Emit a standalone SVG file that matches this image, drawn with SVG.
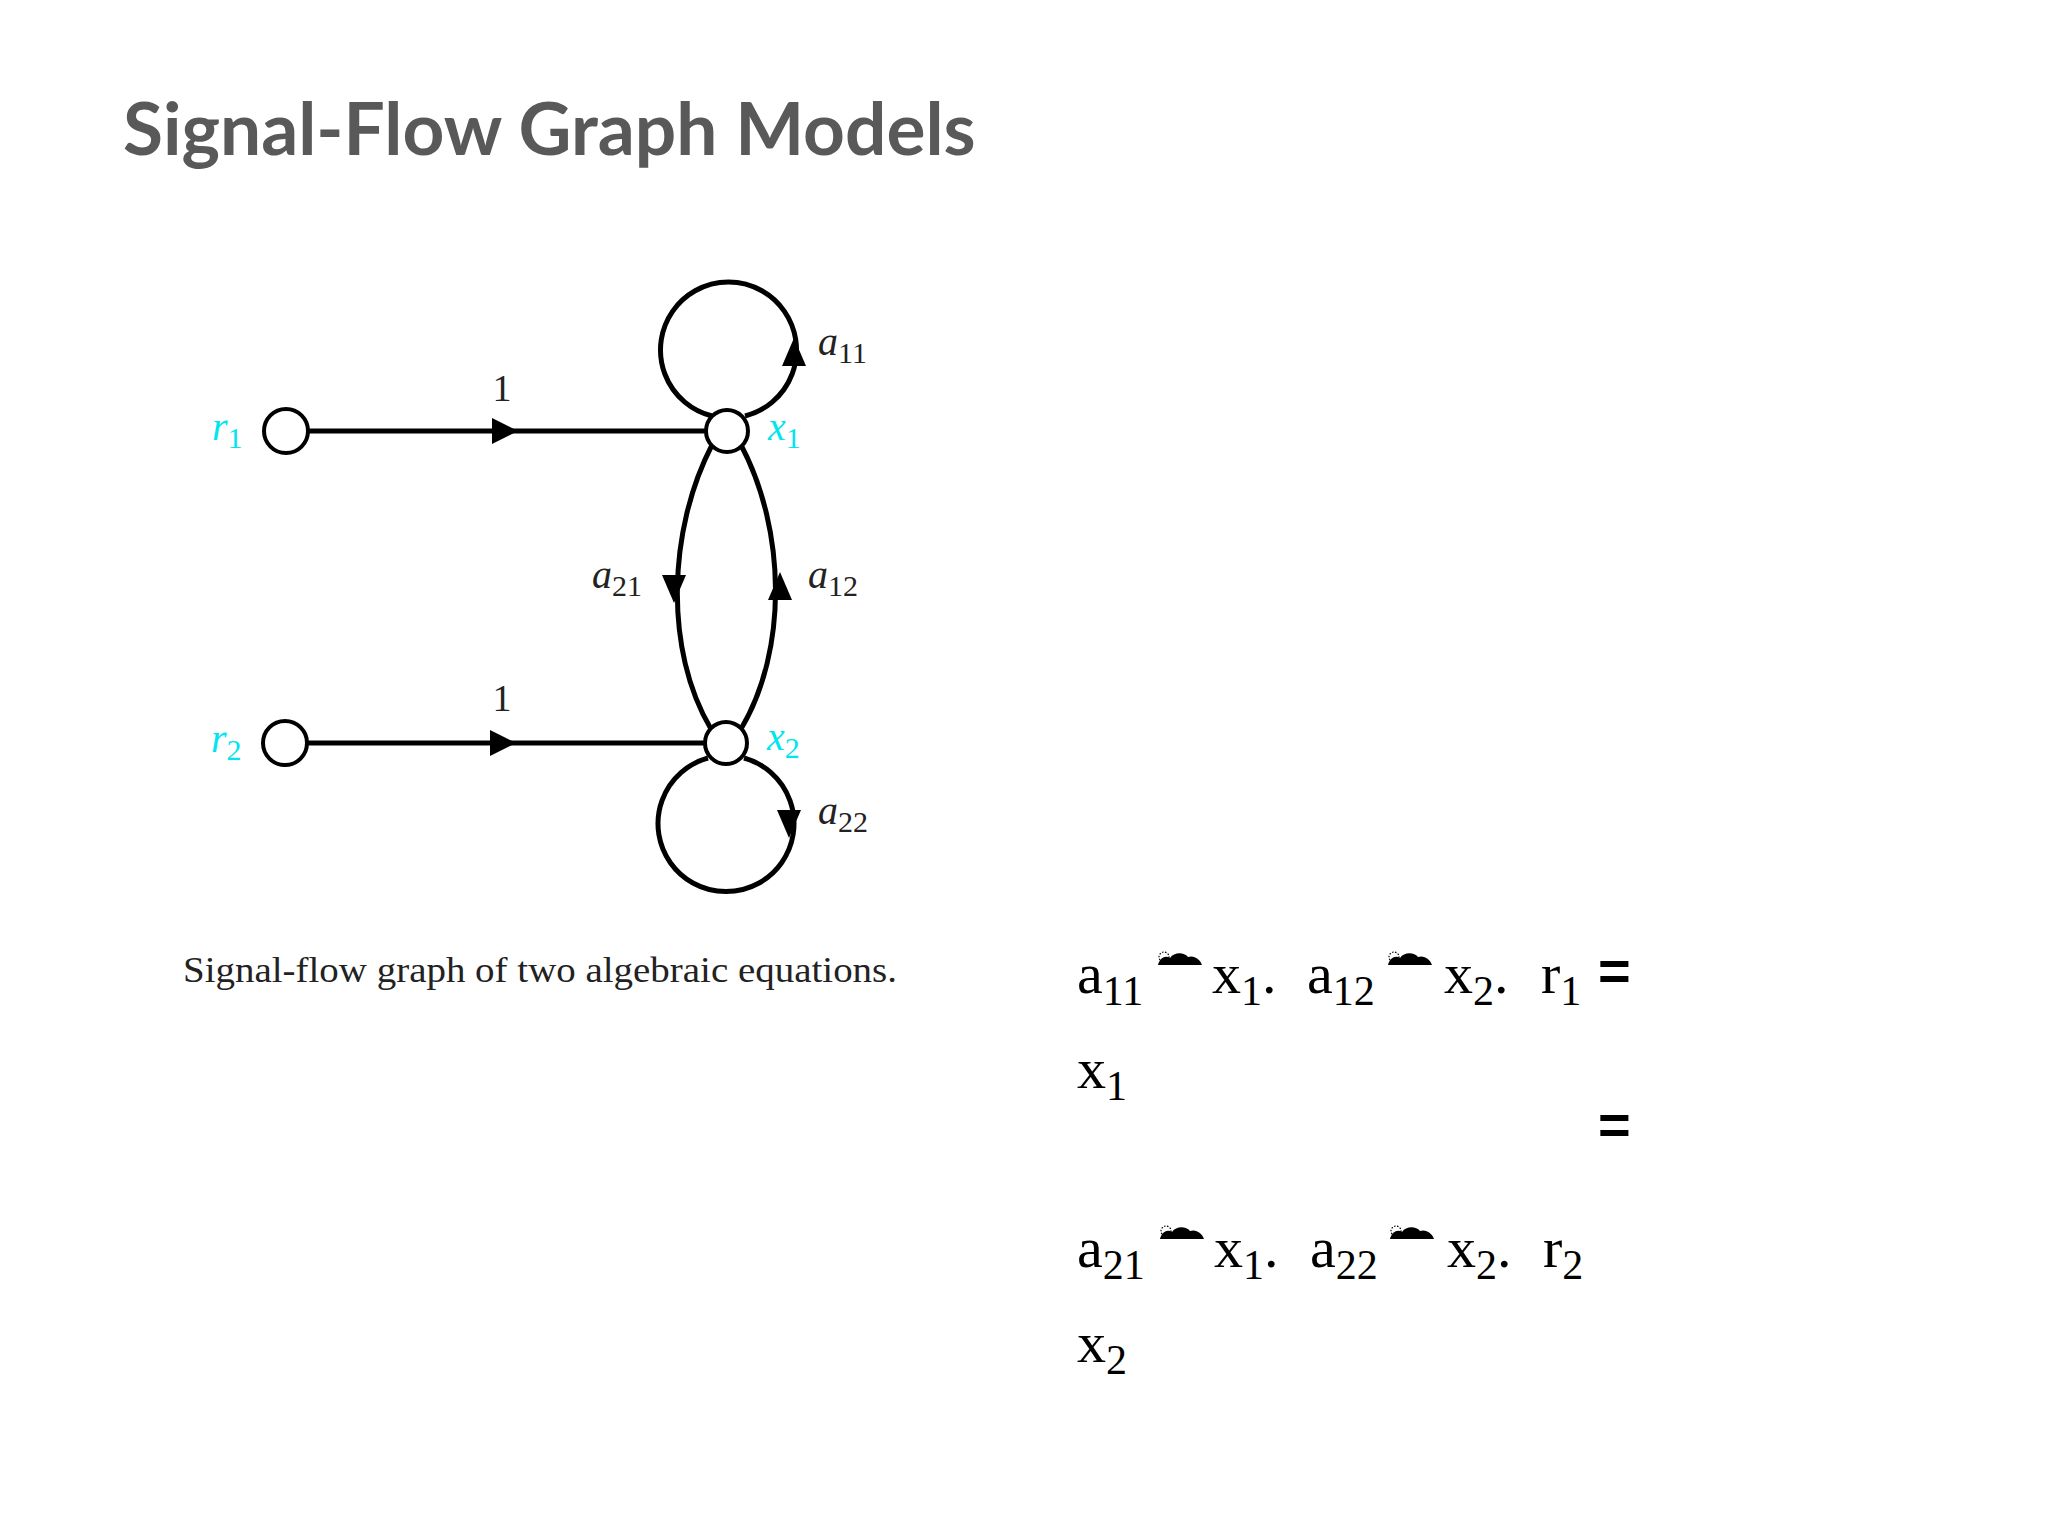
<svg xmlns="http://www.w3.org/2000/svg" width="2048" height="1536" viewBox="0 0 2048 1536">
<defs>
<g id="cloud"><path d="M0,12 C2,4 8,2 12,5 C16,-1 26,-1 30,4 C36,2 42,6 44,12 z" fill="#000"/><circle cx="6" cy="4" r="5" fill="none" stroke="#000" stroke-width="1.2" stroke-dasharray="1.5 1.5"/></g>
</defs>
<style>
.e{stroke:#000;stroke-width:5;fill:none}
.n{stroke:#000;stroke-width:4;fill:#fff}
.lb{font-family:"Liberation Serif",serif;font-style:italic;font-size:40px;fill:#222}
.cy{font-family:"Liberation Serif",serif;font-style:italic;font-size:40px;fill:#00e5ee}
.sb{font-size:30px;font-style:normal}
.eq{font-family:"Liberation Serif",serif;font-size:58px;fill:#000}
.es{font-size:42px}
.eqs{font-family:"Liberation Sans",sans-serif;font-weight:bold;font-size:56px;fill:#000}
</style>
<rect width="2048" height="1536" fill="#fff"/>
<text x="123" y="155" font-family="Lato, sans-serif" font-weight="bold" font-size="73" fill="#595959">Signal-Flow Graph Models</text>
<g id="connectors">
<line class="e" x1="308" y1="431" x2="706" y2="431"/>
<path d="M492,418 L518,431 L492,444 z"/>
<line class="e" x1="307" y1="743" x2="705" y2="743"/>
<path d="M490,730 L516,743 L490,756 z"/>
<path class="e" d="M712,445 C668,530 664,650 711,729"/>
<path d="M662,575 L686,575 L674,603 z"/>
<path class="e" d="M741,445 C786,530 788,650 741,729"/>
<path d="M768,600 L792,600 L780,572 z"/>
<path class="e" d="M712,416 A68,68 0 1 1 745,416"/>
<path d="M782,366 L806,366 L794,338 z"/>
<path class="e" d="M744,758 A68,68 0 1 1 708,758"/>
<path d="M777,810 L801,810 L789,838 z"/>
</g>
<g id="r1"><circle class="n" cx="286" cy="431" r="22"/><text class="cy" x="212" y="440">r<tspan class="sb" dy="8">1</tspan></text></g>
<g id="x1"><circle class="n" cx="727" cy="431" r="21"/><text class="cy" x="768" y="440">x<tspan class="sb" dy="8">1</tspan></text></g>
<g id="r2"><circle class="n" cx="285" cy="743" r="22"/><text class="cy" x="211" y="752">r<tspan class="sb" dy="8">2</tspan></text></g>
<g id="x2"><circle class="n" cx="726" cy="743" r="21"/><text class="cy" x="767" y="750">x<tspan class="sb" dy="8">2</tspan></text></g>
<g id="labels">
<text x="502" y="401" font-family="Liberation Serif, serif" font-size="38" text-anchor="middle" fill="#222">1</text>
<text x="502" y="711" font-family="Liberation Serif, serif" font-size="38" text-anchor="middle" fill="#222">1</text>
<text class="lb" x="818" y="355">a<tspan class="sb" dy="8">11</tspan></text>
<text class="lb" x="592" y="588">a<tspan class="sb" dy="8">21</tspan></text>
<text class="lb" x="808" y="588">a<tspan class="sb" dy="8">12</tspan></text>
<text class="lb" x="818" y="824">a<tspan class="sb" dy="8">22</tspan></text>
<text x="183" y="982" font-family="Liberation Serif, serif" font-size="36" textLength="714" lengthAdjust="spacingAndGlyphs" fill="#222">Signal-flow graph of two algebraic equations.</text>
</g>
<g id="equations">
<text class="eq" x="1077" y="993">a<tspan class="es" dy="12">11</tspan></text>
<use href="#cloud" x="1158" y="953"/>
<text class="eq" x="1212" y="993">x<tspan class="es" dy="12">1</tspan><tspan dy="-12">.</tspan></text>
<text class="eq" x="1307" y="993">a<tspan class="es" dy="12">12</tspan></text>
<use href="#cloud" x="1388" y="953"/>
<text class="eq" x="1444" y="993">x<tspan class="es" dy="12">2</tspan><tspan dy="-12">.</tspan></text>
<text class="eq" x="1541" y="993">r<tspan class="es" dy="12">1</tspan></text>
<text class="eqs" x="1598" y="990">=</text>
<text class="eq" x="1077" y="1088">x<tspan class="es" dy="12">1</tspan></text>
<text class="eqs" x="1598" y="1144">=</text>
<text class="eq" x="1077" y="1267">a<tspan class="es" dy="12">21</tspan></text>
<use href="#cloud" x="1160" y="1227"/>
<text class="eq" x="1214" y="1267">x<tspan class="es" dy="12">1</tspan><tspan dy="-12">.</tspan></text>
<text class="eq" x="1310" y="1267">a<tspan class="es" dy="12">22</tspan></text>
<use href="#cloud" x="1390" y="1227"/>
<text class="eq" x="1447" y="1267">x<tspan class="es" dy="12">2</tspan><tspan dy="-12">.</tspan></text>
<text class="eq" x="1543" y="1267">r<tspan class="es" dy="12">2</tspan></text>
<text class="eq" x="1077" y="1362">x<tspan class="es" dy="12">2</tspan></text>
</g>
</svg>
